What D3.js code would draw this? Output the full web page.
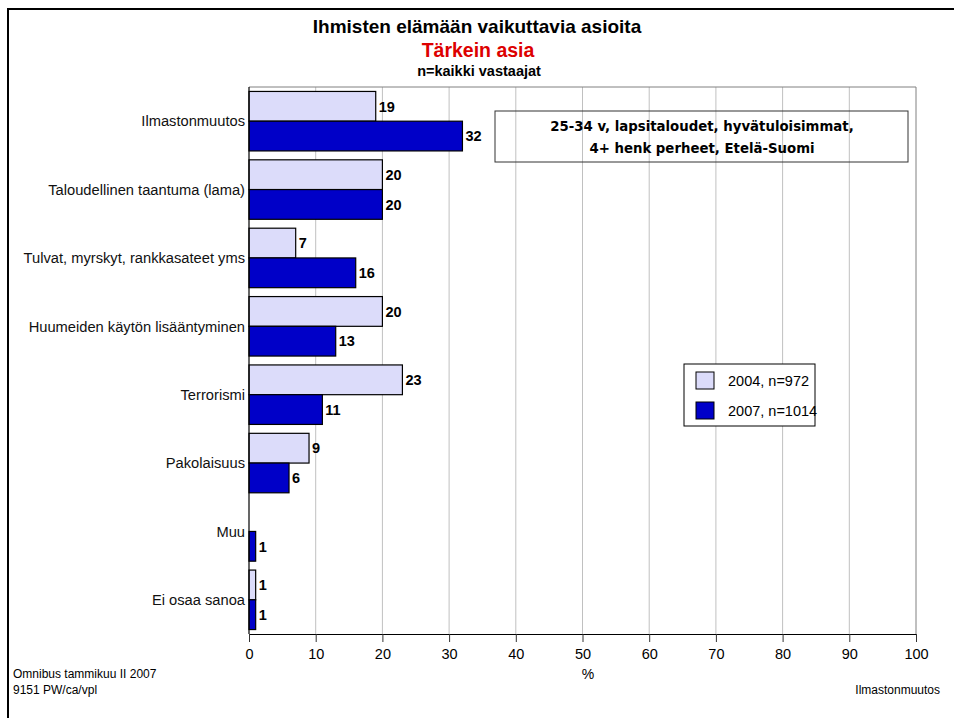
<!DOCTYPE html>
<html><head><meta charset="utf-8">
<script src="https://cdn.jsdelivr.net/npm/d3@7/dist/d3.min.js"></script>
<style>body{margin:0;background:#fff}svg{display:block}text{font-family:"Liberation Sans",Arial,sans-serif}</style>
</head><body>
<svg id="c" width="954" height="718"></svg>
<script>
const categories = ["Ilmastonmuutos","Taloudellinen taantuma (lama)","Tulvat, myrskyt, rankkasateet yms","Huumeiden käytön lisääntyminen","Terrorismi","Pakolaisuus","Muu","Ei osaa sanoa"];
const seriesNames = ["2004, n=972","2007, n=1014"];
const values2004 = [19,20,7,20,23,9,null,1];
const values2007 = [32,20,16,13,11,6,1,1];
const xTicks = [0,10,20,30,40,50,60,70,80,90,100];
const colors = ["#dcdcfa","#0000c8"];

const svg = d3.select("#c");
const L=249,R=916,T=87,B=634;
const x = d3.scaleLinear().domain([0,100]).range([L,R]);
const y = d3.scaleBand().domain(categories).range([T,B]).paddingInner(0.13).paddingOuter(0.065);
const sub = d3.scaleBand().domain([0,1]).range([0,y.bandwidth()]);

// frame
svg.append("line").attr("x1",8).attr("x2",954).attr("y1",9).attr("y2",9).attr("stroke","#000").attr("stroke-width",2);
svg.append("line").attr("x1",8).attr("x2",8).attr("y1",8).attr("y2",718).attr("stroke","#000").attr("stroke-width",2);

// titles
svg.append("text").attr("x",477).attr("y",33).attr("text-anchor","middle").attr("font-weight","bold").attr("font-size",19).text("Ihmisten elämään vaikuttavia asioita");
svg.append("text").attr("x",478).attr("y",57).attr("text-anchor","middle").attr("font-weight","bold").attr("font-size",19.5).attr("fill","#dd0000").text("Tärkein asia");
svg.append("text").attr("x",479).attr("y",76).attr("text-anchor","middle").attr("font-weight","bold").attr("font-size",14.5).text("n=kaikki vastaajat");

// grid
svg.append("g").selectAll("line").data(xTicks.slice(1,-1)).join("line")
  .attr("x1",d=>x(d)).attr("x2",d=>x(d)).attr("y1",T).attr("y2",B).attr("stroke","#c0c0c0");
// plot border top/right
svg.append("path").attr("d",`M${L},${T}H${R}V${B}`).attr("fill","none").attr("stroke","#808080");

// annotation box (transparent)
svg.append("rect").attr("x",495).attr("y",111).attr("width",413).attr("height",51).attr("fill","none").attr("stroke","#333");
const ann = svg.append("text").attr("text-anchor","middle").attr("font-weight","bold").attr("font-size",13.3).style("font-family","'DejaVu Sans',Verdana,sans-serif");
ann.append("tspan").attr("x",702).attr("y",131).text("25-34 v, lapsitaloudet, hyvätuloisimmat,");
ann.append("tspan").attr("x",702).attr("y",153).text("4+ henk perheet, Etelä-Suomi");

// bars
const series=[values2004,values2007];
series.forEach((vals,si)=>{
  const g=svg.append("g");
  const data=categories.map((c,i)=>({c,v:vals[i]})).filter(d=>d.v!=null);
  g.selectAll("rect").data(data).join("rect")
    .attr("x",x(0)).attr("y",d=>y(d.c)+sub(si)).attr("width",d=>x(d.v)-x(0)).attr("height",sub.bandwidth())
    .attr("fill",colors[si]).attr("stroke","#000").attr("stroke-width",1.2);
  g.selectAll("text").data(data).join("text")
    .attr("x",d=>x(d.v)+3).attr("y",d=>y(d.c)+sub(si)+sub.bandwidth()/2).attr("dy","0.36em")
    .attr("font-weight","bold").attr("font-size",14.5).text(d=>d.v);
});

// axes
const xa = svg.append("g").attr("transform",`translate(0,${B})`).call(d3.axisBottom(x).tickValues(xTicks).tickSize(8).tickPadding(7));
xa.select(".domain").attr("stroke","#000");
xa.selectAll(".tick line").attr("stroke","#333");
xa.selectAll("text").attr("font-size",14.5).style("font-family","'Liberation Sans',Arial,sans-serif").attr("fill","#000");
svg.append("line").attr("x1",L).attr("x2",L).attr("y1",T).attr("y2",B).attr("stroke","#000").attr("stroke-width",1.2);

svg.append("g").selectAll("text").data(categories).join("text")
  .attr("x",245).attr("y",d=>y(d)+y.bandwidth()/2).attr("dy","0.36em").attr("text-anchor","end").attr("font-size",14.7).attr("fill","#111").text(d=>d);

// legend
svg.append("rect").attr("x",684).attr("y",364).attr("width",131).attr("height",62).attr("fill","#fff").attr("stroke","#000");
seriesNames.forEach((n,i)=>{
  svg.append("rect").attr("x",696).attr("y",372+i*30).attr("width",18).attr("height",17).attr("fill",colors[i]).attr("stroke","#000");
  svg.append("text").attr("x",728).attr("y",381+i*30).attr("dy","0.36em").attr("font-size",14.5).text(n);
});

// footer
svg.append("text").attr("x",588).attr("y",674).attr("dy","0.36em").attr("text-anchor","middle").attr("font-size",14).text("%");
svg.append("text").attr("x",13).attr("y",674).attr("dy","0.36em").attr("font-size",12).text("Omnibus tammikuu II 2007");
svg.append("text").attr("x",13).attr("y",690).attr("dy","0.36em").attr("font-size",12).text("9151 PW/ca/vpl");
svg.append("text").attr("x",940).attr("y",690).attr("dy","0.36em").attr("text-anchor","end").attr("font-size",12).text("Ilmastonmuutos");
</script>
</body></html>
